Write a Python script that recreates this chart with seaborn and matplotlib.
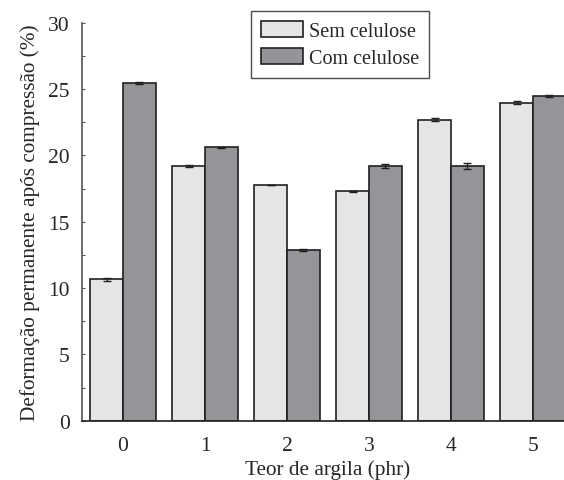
import pandas as pd
import matplotlib
matplotlib.use("Agg")
import matplotlib.pyplot as plt
import seaborn as sns

# Dados
teor = ["0", "1", "2", "3", "4", "5"]
sem_celulose = [10.66, 19.2, 17.76, 17.3, 22.7, 23.97]
com_celulose = [25.45, 20.6, 12.88, 19.2, 19.2, 24.47]
sem_erro = [0.10, 0.10, 0.03, 0.05, 0.08, 0.10]
com_erro = [0.08, 0.05, 0.08, 0.15, 0.22, 0.05]
series = ["Sem celulose", "Com celulose"]

df = pd.DataFrame({
    "teor": teor * 2,
    "valor": sem_celulose + com_celulose,
    "erro": sem_erro + com_erro,
    "serie": [series[0]] * 6 + [series[1]] * 6,
})

sns.set_style("ticks")
plt.rcParams["font.family"] = ["Liberation Serif", "DejaVu Serif"]

fig = plt.figure(figsize=(5.64, 4.81), dpi=100)
ax = fig.add_axes([82 / 564, 0.1233, 492 / 564, 0.8274])

sns.barplot(data=df, x="teor", y="valor", hue="serie", order=teor,
            hue_order=series, palette=["#e4e5e7", "#939598"], width=0.8,
            edgecolor="#231f20", linewidth=1.2, errorbar=None, ax=ax,
            saturation=1)

# barras de erro nas posições das barras desenhadas
bars = [p for p in ax.patches if p.get_height() > 0]
xs = [p.get_x() + p.get_width() / 2 for p in bars]
hs = [p.get_height() for p in bars]
errs = sem_erro + com_erro
ax.errorbar(xs, hs, yerr=errs, fmt="none", ecolor="#231f20",
            elinewidth=1.0, capsize=3, capthick=1.0, zorder=5)

ax.set_xlim(-0.5, 5.5)
ax.set_ylim(0, 30)
ax.set_yticks([0, 5, 10, 15, 20, 25, 30])
ax.set_yticks([2.5, 7.5, 12.5, 17.5, 22.5, 27.5], minor=True)
ax.tick_params(axis="y", which="both", direction="in", length=2,
               width=0.8, color="#555555", labelsize=15.5, pad=9)
ax.tick_params(axis="x", length=0, labelsize=15.5, pad=11)
sns.despine(ax=ax, top=True, right=True)
ax.spines["left"].set_color("#555555")
ax.spines["left"].set_linewidth(1.2)
ax.spines["bottom"].set_color("#231f20")
ax.spines["bottom"].set_linewidth(1.2)

ax.set_xlabel("Teor de argila (phr)", fontsize=15.3, labelpad=3)
ax.set_ylabel("Deformação permanente após compressão (%)", fontsize=15.3,
              labelpad=6)

leg = ax.legend(loc="upper center", bbox_to_anchor=(340 / 564, 1 - 12 / 481),
                bbox_transform=fig.transFigure, frameon=True, fancybox=False,
                edgecolor="#231f20", fontsize=14.5, handlelength=2.1,
                handleheight=0.85, handletextpad=0.3, borderpad=0.5,
                labelspacing=0.35, borderaxespad=0, title=None)
leg.get_frame().set_linewidth(1.0)

fig.savefig("out.png", dpi=100)
